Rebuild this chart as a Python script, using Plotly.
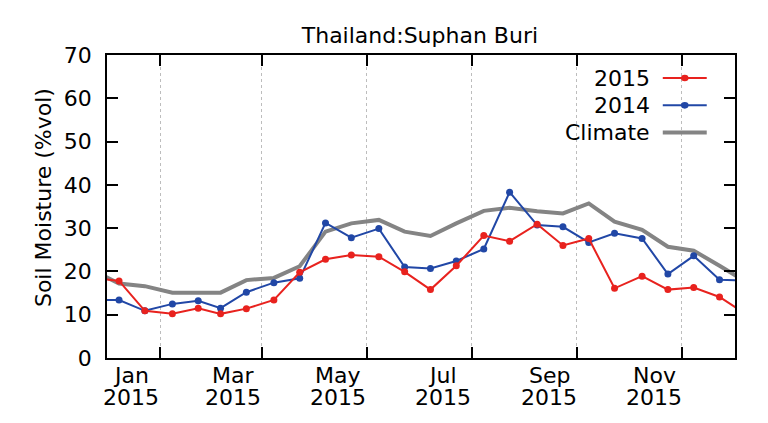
import plotly.graph_objects as go

# semi-monthly dates (one point either side of 2015 so the lines run to the frame)
dates = ["2014-12-23",
         "2015-01-08", "2015-01-23", "2015-02-08", "2015-02-23", "2015-03-08", "2015-03-23",
         "2015-04-08", "2015-04-23", "2015-05-08", "2015-05-23", "2015-06-08", "2015-06-23",
         "2015-07-08", "2015-07-23", "2015-08-08", "2015-08-23", "2015-09-08", "2015-09-23",
         "2015-10-08", "2015-10-23", "2015-11-08", "2015-11-23", "2015-12-08", "2015-12-23",
         "2016-01-08"]

sm_2015 = [18.6, 17.8, 10.9, 10.2, 11.5, 10.2, 11.4, 13.4, 19.8, 22.8, 23.8, 23.4, 19.9,
           15.8, 21.3, 28.3, 27.0, 30.9, 26.0, 27.6, 16.1, 18.9, 15.8, 16.3, 14.1, 10.0]
sm_2014 = [13.4, 13.4, 10.9, 12.5, 13.2, 11.5, 15.2, 17.4, 18.4, 31.2, 27.8, 29.9, 21.0,
           20.7, 22.4, 25.2, 38.3, 30.7, 30.3, 26.7, 28.8, 27.6, 19.4, 23.6, 18.1, 17.9]
sm_climate = [20.4, 17.2, 16.6, 15.1, 15.1, 15.1, 18.0, 18.5, 21.2, 29.2, 31.1, 31.9, 29.2,
              28.2, 31.1, 34.0, 34.7, 33.9, 33.4, 35.7, 31.5, 29.6, 25.7, 24.8, 21.3, 17.5]

label_dates = ["2015-01-15", "2015-03-15", "2015-05-15", "2015-07-15", "2015-09-15", "2015-11-15"]
label_months = ["Jan", "Mar", "May", "Jul", "Sep", "Nov"]
label_year = "2015"

RED = "#e8221e"
BLUE = "#2147a6"
GRAY = "#848484"
FONT = "DejaVu Sans"
FS = 22

fig = go.Figure()
fig.add_trace(go.Scatter(x=dates, y=sm_climate, mode="lines", name="Climate",
                         line=dict(color=GRAY, width=4)))
fig.add_trace(go.Scatter(x=dates, y=sm_2014, mode="lines+markers", name="2014",
                         line=dict(color=BLUE, width=2), marker=dict(size=7, color=BLUE)))
fig.add_trace(go.Scatter(x=dates, y=sm_2015, mode="lines+markers", name="2015",
                         line=dict(color=RED, width=2), marker=dict(size=7, color=RED)))

fig.update_xaxes(range=["2015-01-01", "2016-01-01"], automargin=False,
                 showticklabels=False, ticks="", showgrid=False,
                 showline=True, linecolor="black", linewidth=1.5, mirror="ticks",
                 minor=dict(tick0="2015-01-01", dtick="M1", ticks="inside", ticklen=11,
                            tickcolor="black", tickwidth=1.5, showgrid=True,
                            gridcolor="#bdbdbd", griddash="dot", gridwidth=1),
                 zeroline=False)
fig.update_yaxes(range=[0, 70], dtick=10, ticks="inside", ticklen=11, tickwidth=1.5,
                 tickcolor="black", showgrid=False, zeroline=False, showline=True,
                 linecolor="black", linewidth=1.5, mirror="ticks", ticklabelstandoff=9,
                 automargin=False,
                 tickfont=dict(family=FONT, size=FS, color="black"))

# two-line date labels (gnuplot spacing is tighter than plotly's <br>)
for d, m in zip(label_dates, label_months):
    fig.add_annotation(x=d, xref="x", yref="paper", y=-0.058, text=m, showarrow=False,
                       xanchor="center", yanchor="middle",
                       font=dict(family=FONT, size=FS, color="black"))
    fig.add_annotation(x=d, xref="x", yref="paper", y=-0.132, text=label_year, showarrow=False,
                       xanchor="center", yanchor="middle",
                       font=dict(family=FONT, size=FS, color="black"))

# y axis title
fig.add_annotation(xref="paper", yref="paper", x=-0.102, y=0.531, text="Soil Moisture (%vol)",
                   textangle=-90, showarrow=False, xanchor="center", yanchor="middle",
                   font=dict(family=FONT, size=FS, color="black"))

# legend drawn gnuplot-style: right-aligned text, sample to the right
legend_items = [("2015", RED, 2, True), ("2014", BLUE, 2, True), ("Climate", GRAY, 4, False)]
for i, (txt, col, w, dot) in enumerate(legend_items):
    yy = 0.924 - i * 0.09
    fig.add_annotation(xref="paper", yref="paper", x=0.868, y=yy, text=txt, showarrow=False,
                       xanchor="right", yanchor="middle",
                       font=dict(family=FONT, size=FS, color="black"))
    fig.add_shape(type="line", xref="paper", yref="paper", x0=0.885, x1=0.955, y0=yy, y1=yy,
                  line=dict(color=col, width=w))
    if dot:
        fig.add_shape(type="circle", xref="paper", yref="paper", x0=0.914, x1=0.926,
                      y0=yy - 0.011, y1=yy + 0.011, fillcolor=col, line=dict(color=col, width=0))

# the page body adds 8px around the figure, so the figure is 8px smaller
fig.update_layout(width=760, height=415, margin=dict(l=99, r=33, t=47, b=65, autoexpand=False),
                  plot_bgcolor="white", paper_bgcolor="white", showlegend=False,
                  title=dict(text="Thailand:Suphan Buri", x=0.542, xanchor="center", y=0.935,
                             yanchor="middle", automargin=False,
                             font=dict(family=FONT, size=FS, color="black")))

fig.write_html("out.html")
